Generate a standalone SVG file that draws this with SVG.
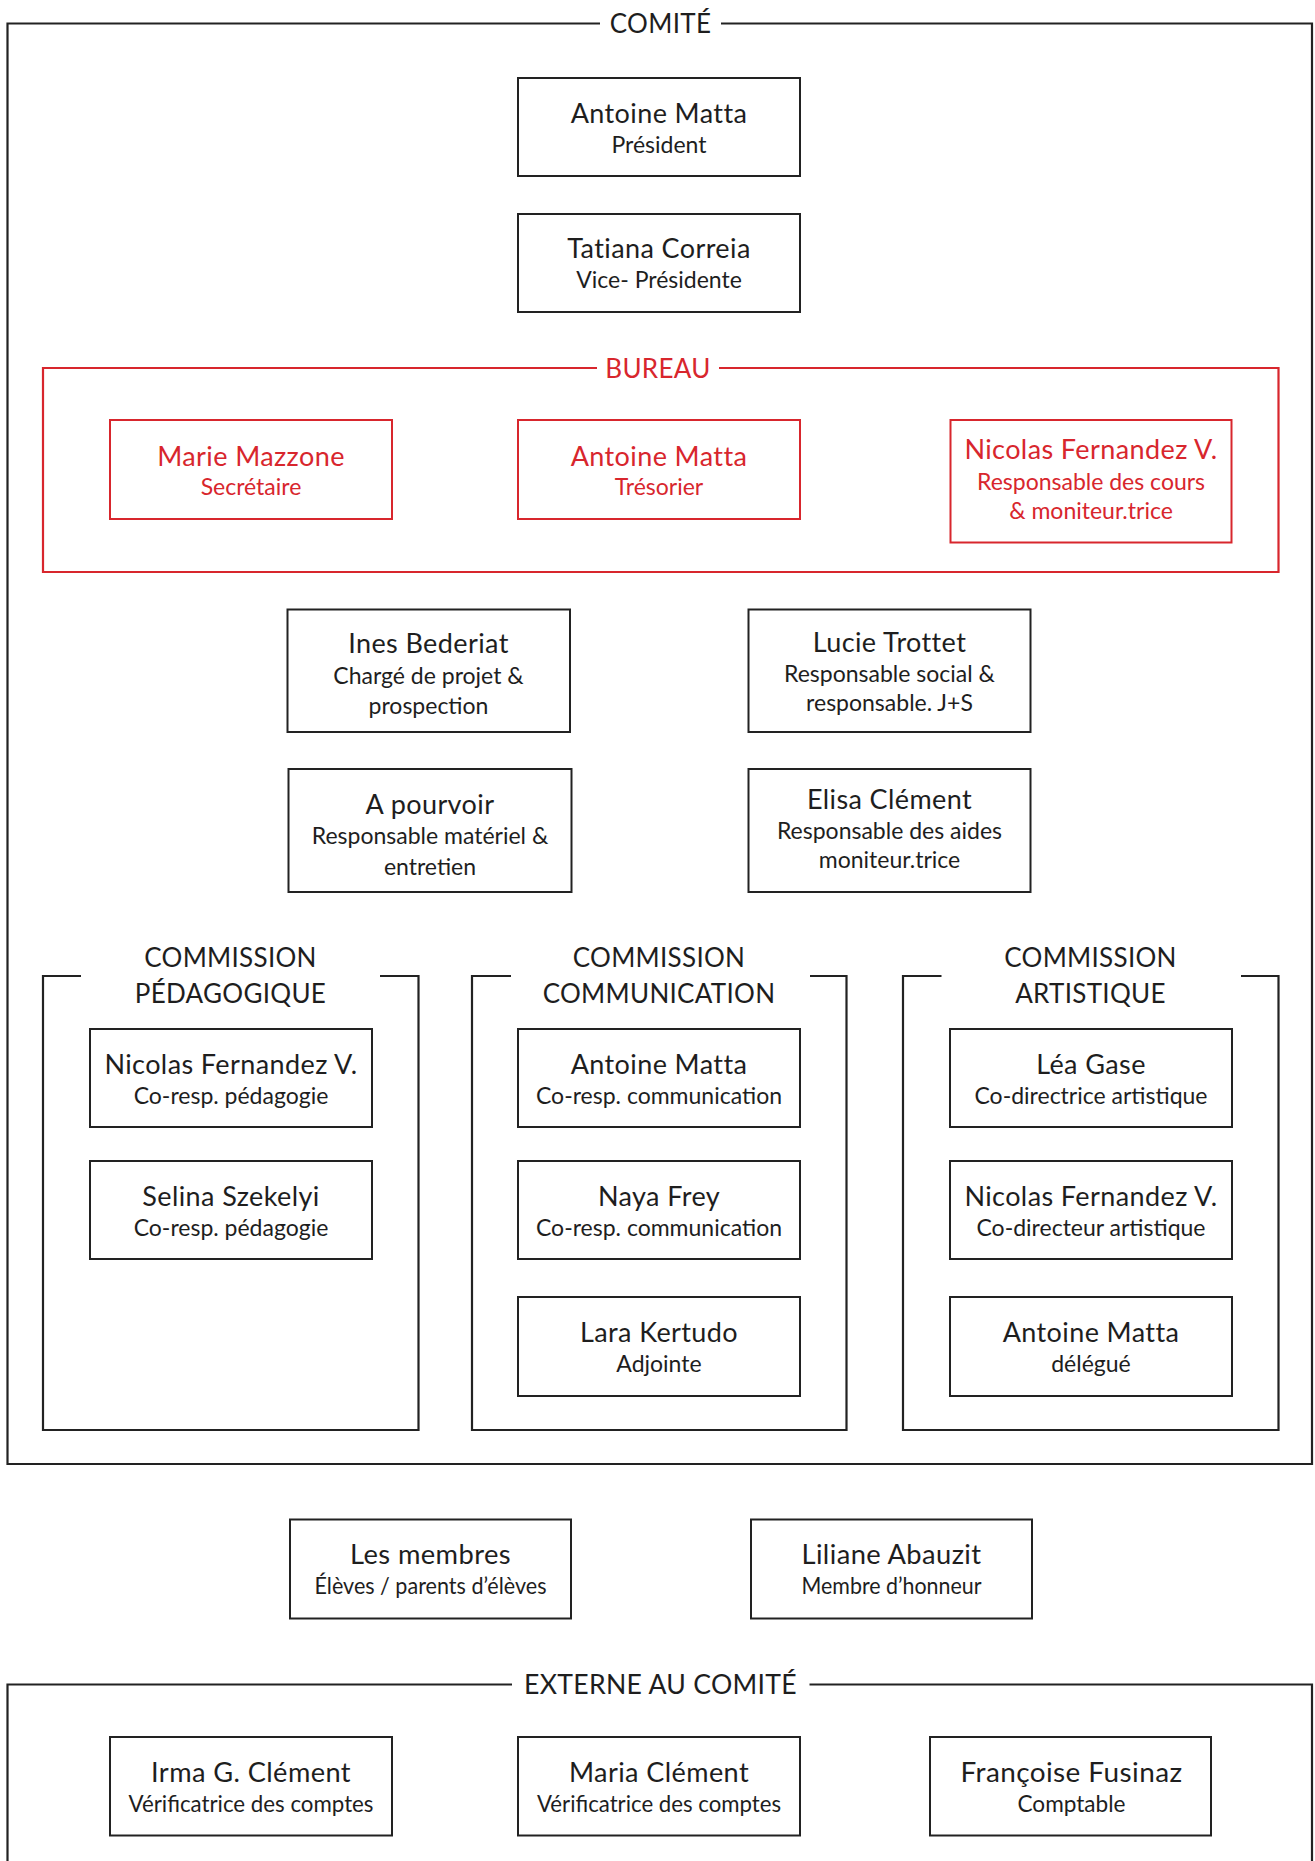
<svg xmlns="http://www.w3.org/2000/svg" width="1315" height="1861" viewBox="0 0 1315 1861">
<style>
text{font-family:Lato,"Noto Sans",sans-serif;text-anchor:middle;fill:#1e1e1e}
.n{font-size:27px;letter-spacing:0.4px}
.s{font-size:23px}
.h{font-size:26px;letter-spacing:0.3px}
.box{fill:none;stroke:#222;stroke-width:2}
.frame{fill:none;stroke:#222;stroke-width:2.2}
.red .box{stroke:#d8262d}
.red text,text.red{fill:#d8262d}
.redframe{fill:none;stroke:#d8262d;stroke-width:2.2}
</style>
<rect width="1315" height="1861" fill="#fff"/>

<g id="comite-frame">
<path class="frame" d="M600,23.5 H7.5 V1464 H1312 V23.5 H721"/>
<text class="h" x="660.5" y="33">COMITÉ</text>
</g>

<g id="president"><rect class="box" x="518" y="78" width="282" height="98"/><text class="n" x="659" y="123">Antoine Matta</text><text class="s" x="659" y="153">Président</text></g>
<g id="vice-presidente"><rect class="box" x="518" y="214" width="282" height="98"/><text class="n" x="659" y="258">Tatiana Correia</text><text class="s" x="659" y="288">Vice- Présidente</text></g>

<g id="bureau-frame">
<path class="redframe" d="M597,368 H43 V572 H1278.5 V368 H719"/>
<text class="h red" x="658" y="377.5">BUREAU</text>
</g>
<g id="secretaire" class="red"><rect class="box" x="110" y="420" width="282" height="99"/><text class="n" x="251" y="465.5">Marie Mazzone</text><text class="s" x="251" y="495">Secrétaire</text></g>
<g id="tresorier" class="red"><rect class="box" x="518" y="420" width="282" height="99"/><text class="n" x="659" y="465.5">Antoine Matta</text><text class="s" x="659" y="495">Trésorier</text></g>
<g id="resp-cours" class="red"><rect class="box" x="950.5" y="420" width="281" height="122.5"/><text class="n" x="1091" y="459">Nicolas Fernandez V.</text><text class="s" x="1091" y="490">Responsable des cours</text><text class="s" x="1091" y="519">&amp; moniteur.trice</text></g>

<g id="ines"><rect class="box" x="287.5" y="609.5" width="282.5" height="122.5"/><text class="n" x="428.5" y="653">Ines Bederiat</text><text class="s" x="428.5" y="684">Chargé de projet &amp;</text><text class="s" x="428.5" y="714">prospection</text></g>
<g id="lucie"><rect class="box" x="748.5" y="609.5" width="282" height="122.5"/><text class="n" x="889.5" y="652">Lucie Trottet</text><text class="s" x="889.5" y="682">Responsable social &amp;</text><text class="s" x="889.5" y="711">responsable. J+S</text></g>
<g id="a-pourvoir"><rect class="box" x="288.5" y="769" width="283" height="123"/><text class="n" x="430" y="814">A pourvoir</text><text class="s" x="430" y="844">Responsable matériel &amp;</text><text class="s" x="430" y="875">entretien</text></g>
<g id="elisa"><rect class="box" x="748.5" y="769" width="282" height="123"/><text class="n" x="889.5" y="808.5">Elisa Clément</text><text class="s" x="889.5" y="838.5">Responsable des aides</text><text class="s" x="889.5" y="868">moniteur.trice</text></g>

<g id="commission-pedagogique">
<path class="frame" d="M81,976 H43 V1430 H418.5 V976 H380"/>
<text class="h" x="230.5" y="967">COMMISSION</text><text class="h" x="230.5" y="1003">PÉDAGOGIQUE</text>
</g>
<g id="commission-communication">
<path class="frame" d="M511,976 H472 V1430 H846.5 V976 H810"/>
<text class="h" x="659" y="967">COMMISSION</text><text class="h" x="659" y="1003">COMMUNICATION</text>
</g>
<g id="commission-artistique">
<path class="frame" d="M941.5,976 H903 V1430 H1278.5 V976 H1241"/>
<text class="h" x="1090.5" y="967">COMMISSION</text><text class="h" x="1090.5" y="1003">ARTISTIQUE</text>
</g>

<g id="ped-nicolas"><rect class="box" x="90" y="1029" width="282" height="98"/><text class="n" x="231" y="1074">Nicolas Fernandez V.</text><text class="s" x="231" y="1104">Co-resp. pédagogie</text></g>
<g id="ped-selina"><rect class="box" x="90" y="1161" width="282" height="98"/><text class="n" x="231" y="1206">Selina Szekelyi</text><text class="s" x="231" y="1236">Co-resp. pédagogie</text></g>

<g id="com-antoine"><rect class="box" x="518" y="1029" width="282" height="98"/><text class="n" x="659" y="1074">Antoine Matta</text><text class="s" x="659" y="1104">Co-resp. communication</text></g>
<g id="com-naya"><rect class="box" x="518" y="1161" width="282" height="98"/><text class="n" x="659" y="1206">Naya Frey</text><text class="s" x="659" y="1236">Co-resp. communication</text></g>
<g id="com-lara"><rect class="box" x="518" y="1297" width="282" height="99"/><text class="n" x="659" y="1342">Lara Kertudo</text><text class="s" x="659" y="1372">Adjointe</text></g>

<g id="art-lea"><rect class="box" x="950" y="1029" width="282" height="98"/><text class="n" x="1091" y="1074">Léa Gase</text><text class="s" x="1091" y="1104">Co-directrice artistique</text></g>
<g id="art-nicolas"><rect class="box" x="950" y="1161" width="282" height="98"/><text class="n" x="1091" y="1206">Nicolas Fernandez V.</text><text class="s" x="1091" y="1236">Co-directeur artistique</text></g>
<g id="art-antoine"><rect class="box" x="950" y="1297" width="282" height="99"/><text class="n" x="1091" y="1342">Antoine Matta</text><text class="s" x="1091" y="1372">délégué</text></g>

<g id="membres"><rect class="box" x="290" y="1519.5" width="281" height="99"/><text class="n" x="430.5" y="1564" textLength="161" lengthAdjust="spacingAndGlyphs">Les membres</text><text class="s" x="430.5" y="1594" textLength="232" lengthAdjust="spacingAndGlyphs">Élèves / parents d’élèves</text></g>
<g id="liliane"><rect class="box" x="751" y="1519.5" width="281" height="99"/><text class="n" x="891.5" y="1564" textLength="180" lengthAdjust="spacingAndGlyphs">Liliane Abauzit</text><text class="s" x="891.5" y="1594" textLength="180" lengthAdjust="spacingAndGlyphs">Membre d’honneur</text></g>

<g id="externe-frame">
<path class="frame" d="M512,1684.5 H7.5 V1875 M1312,1875 V1684.5 H809.5"/>
<text class="h" x="660.5" y="1694" textLength="273" lengthAdjust="spacingAndGlyphs">EXTERNE AU COMITÉ</text>
</g>
<g id="irma"><rect class="box" x="110" y="1737" width="282" height="98.5"/><text class="n" x="251" y="1782" textLength="200" lengthAdjust="spacingAndGlyphs">Irma G. Clément</text><text class="s" x="251" y="1812" textLength="245" lengthAdjust="spacingAndGlyphs">Vérificatrice des comptes</text></g>
<g id="maria"><rect class="box" x="518" y="1737" width="282" height="98.5"/><text class="n" x="659" y="1782" textLength="180" lengthAdjust="spacingAndGlyphs">Maria Clément</text><text class="s" x="659" y="1812" textLength="244" lengthAdjust="spacingAndGlyphs">Vérificatrice des comptes</text></g>
<g id="francoise"><rect class="box" x="930" y="1737" width="281" height="98.5"/><text class="n" x="1071.5" y="1782" textLength="222" lengthAdjust="spacingAndGlyphs">Françoise Fusinaz</text><text class="s" x="1071.5" y="1812" textLength="108" lengthAdjust="spacingAndGlyphs">Comptable</text></g>

<g id="connectors"></g>
</svg>
